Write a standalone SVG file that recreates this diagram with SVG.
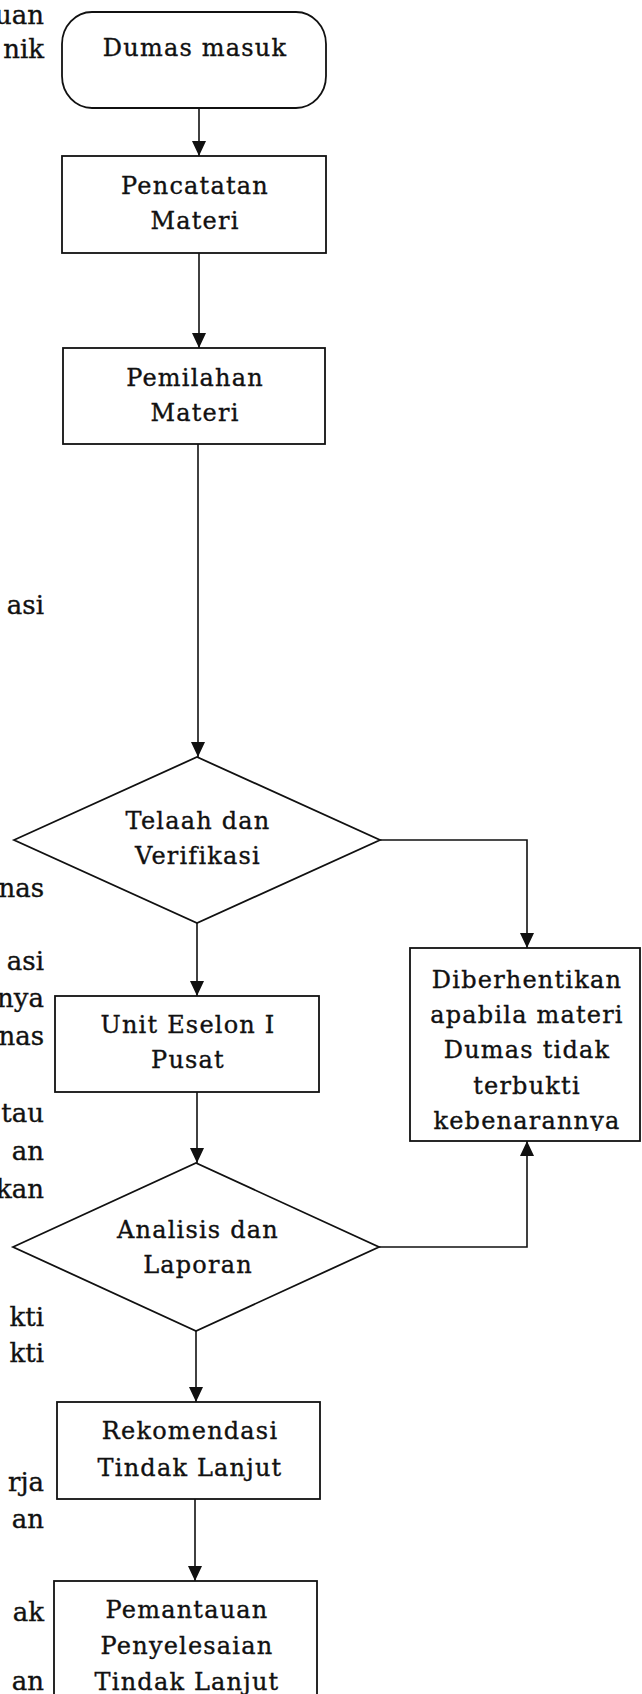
<svg xmlns="http://www.w3.org/2000/svg" width="642" height="1694" viewBox="0 0 642 1694">
<style>
.shape{fill:#fff;stroke:#111;stroke-width:1.8}
.conn{fill:none;stroke:#111;stroke-width:1.6}
.lbl{font-family:"DejaVu Serif","Liberation Serif",serif;font-size:24px;letter-spacing:1.2px;fill:#111;stroke:#111;stroke-width:0.35;text-anchor:middle}
.body{font-family:"DejaVu Serif","Liberation Serif",serif;font-size:26px;fill:#111;stroke:#111;stroke-width:0.35;text-anchor:end}
</style>
<defs>
<marker id="arr" markerUnits="userSpaceOnUse" markerWidth="16" markerHeight="14" refX="15" refY="7" orient="auto">
<path d="M0,0 L15,7 L0,14 z" fill="#111"/>
</marker>
<clipPath id="clipKeb"><rect x="410" y="940" width="232" height="191"/></clipPath>
</defs>
<rect width="642" height="1694" fill="#fff"/>

<g id="body-text">
<text class="body" x="44" y="24">uan</text>
<text class="body" x="44" y="58">nik</text>
<text class="body" x="44" y="614">asi</text>
<text class="body" x="44" y="897">nas</text>
<text class="body" x="44" y="970">asi</text>
<text class="body" x="44" y="1007">nya</text>
<text class="body" x="44" y="1045">nas</text>
<text class="body" x="44" y="1122">tau</text>
<text class="body" x="44" y="1160">an</text>
<text class="body" x="44" y="1198">kan</text>
<text class="body" x="44" y="1326">kti</text>
<text class="body" x="44" y="1362">kti</text>
<text class="body" x="44" y="1491">rja</text>
<text class="body" x="44" y="1528">an</text>
<text class="body" x="44" y="1621">ak</text>
<text class="body" x="44" y="1690">an</text>
</g>

<g id="connectors">
<line class="conn" x1="199" y1="108" x2="199" y2="156" marker-end="url(#arr)"/>
<line class="conn" x1="199" y1="253" x2="199" y2="348" marker-end="url(#arr)"/>
<line class="conn" x1="198" y1="444" x2="198" y2="757" marker-end="url(#arr)"/>
<polyline class="conn" points="380,840 527,840 527,948" marker-end="url(#arr)"/>
<line class="conn" x1="197" y1="923" x2="197" y2="996" marker-end="url(#arr)"/>
<line class="conn" x1="197" y1="1092" x2="197" y2="1163" marker-end="url(#arr)"/>
<polyline class="conn" points="379,1247 527,1247 527,1141" marker-end="url(#arr)"/>
<line class="conn" x1="196" y1="1331" x2="196" y2="1402" marker-end="url(#arr)"/>
<line class="conn" x1="195" y1="1499" x2="195" y2="1581" marker-end="url(#arr)"/>
</g>

<g id="dumas-masuk">
<rect class="shape" x="62" y="12" width="264" height="96" rx="30" ry="32"/>
<text class="lbl" x="195" y="56">Dumas masuk</text>
</g>

<g id="pencatatan">
<rect class="shape" x="62" y="156" width="264" height="97"/>
<text class="lbl" x="195" y="194">Pencatatan</text>
<text class="lbl" x="195" y="229">Materi</text>
</g>

<g id="pemilahan">
<rect class="shape" x="63" y="348" width="262" height="96"/>
<text class="lbl" x="195" y="386">Pemilahan</text>
<text class="lbl" x="195" y="421">Materi</text>
</g>

<g id="telaah">
<polygon class="shape" points="14,840 197,757 380,840 197,923"/>
<text class="lbl" x="198" y="829">Telaah dan</text>
<text class="lbl" x="198" y="864">Verifikasi</text>
</g>

<g id="diberhentikan">
<rect class="shape" x="410" y="948" width="230" height="193"/>
<g clip-path="url(#clipKeb)">
<text class="lbl" x="527" y="988">Diberhentikan</text>
<text class="lbl" x="527" y="1023">apabila materi</text>
<text class="lbl" x="527" y="1058">Dumas tidak</text>
<text class="lbl" x="527" y="1094">terbukti</text>
<text class="lbl" x="527" y="1129">kebenarannya</text>
</g>
</g>

<g id="unit-eselon">
<rect class="shape" x="55" y="996" width="264" height="96"/>
<text class="lbl" x="188" y="1033">Unit Eselon I</text>
<text class="lbl" x="188" y="1068">Pusat</text>
</g>

<g id="analisis">
<polygon class="shape" points="13,1247 196,1163 379,1247 196,1331"/>
<text class="lbl" x="198" y="1238">Analisis dan</text>
<text class="lbl" x="198" y="1273">Laporan</text>
</g>

<g id="rekomendasi">
<rect class="shape" x="57" y="1402" width="263" height="97"/>
<text class="lbl" x="190" y="1439">Rekomendasi</text>
<text class="lbl" x="190" y="1476">Tindak Lanjut</text>
</g>

<g id="pemantauan">
<rect class="shape" x="54" y="1581" width="263" height="125"/>
<text class="lbl" x="187" y="1618">Pemantauan</text>
<text class="lbl" x="187" y="1654">Penyelesaian</text>
<text class="lbl" x="187" y="1690">Tindak Lanjut</text>
</g>
</svg>
